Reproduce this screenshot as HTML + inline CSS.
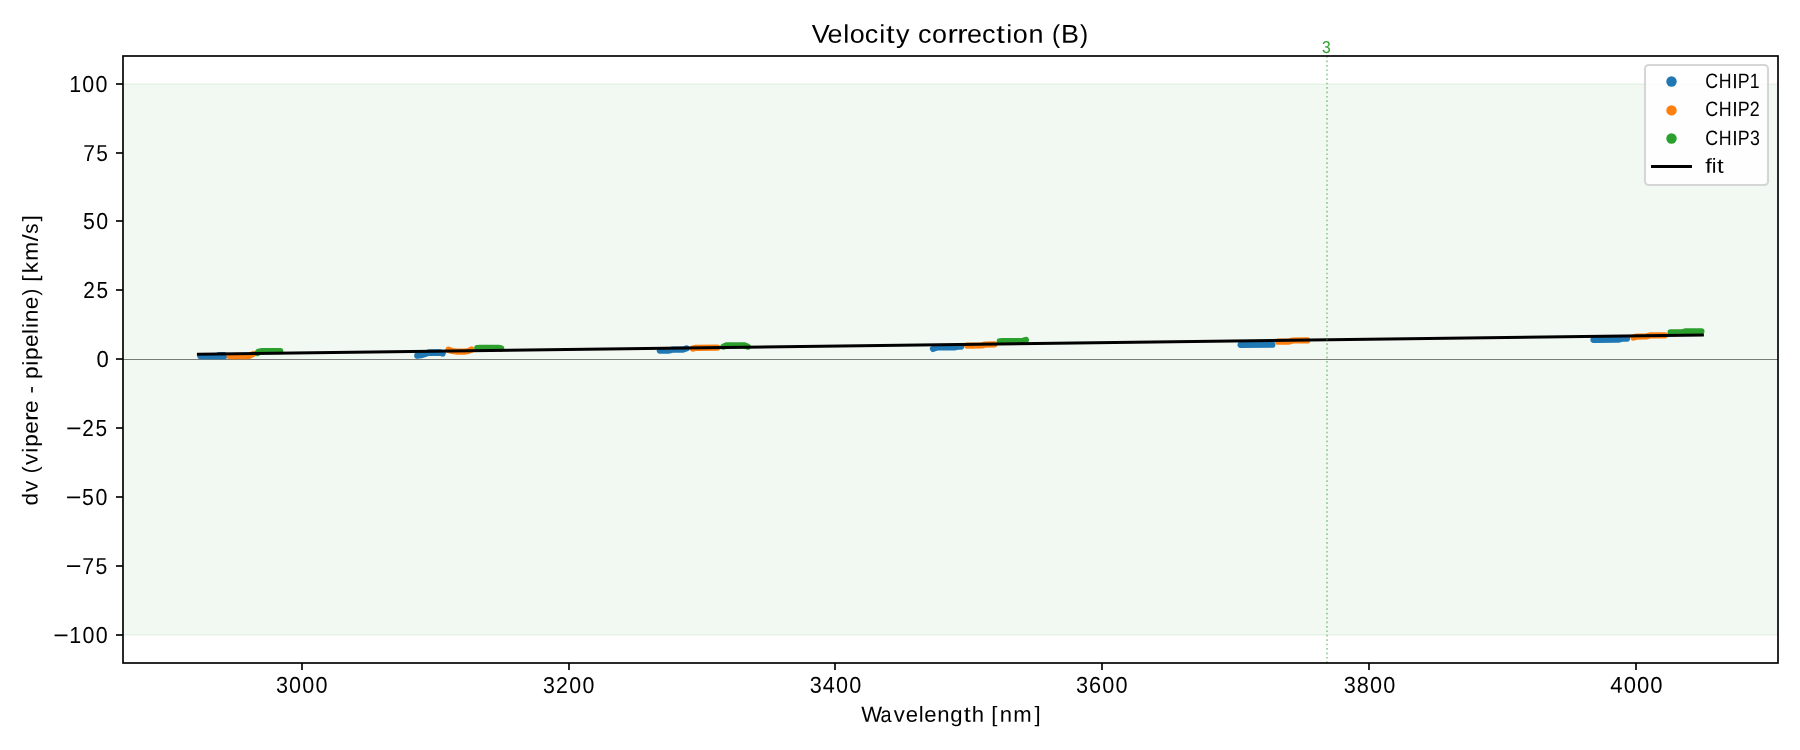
<!DOCTYPE html>
<html lang="en">
<head>
<meta charset="utf-8">
<title>Velocity correction (B)</title>
<style>
html,body{margin:0;padding:0;background:#fff;width:1800px;height:750px;overflow:hidden}
svg{display:block;will-change:transform}
text{font-family:"Liberation Sans",sans-serif;font-kerning:none;text-rendering:geometricPrecision;white-space:pre}
</style>
</head>
<body>
<svg width="1800" height="750" viewBox="0 0 1800 750">
<rect width="1800" height="750" fill="#fff"/>
<clipPath id="ax"><rect x="123" y="56" width="1655" height="607"/></clipPath>
<g clip-path="url(#ax)">
<!-- axhspan(-100, 100): green, alpha 0.05, with its faint edge line -->
<g shape-rendering="crispEdges">
<rect x="123" y="83" width="1655" height="553" fill="rgb(242,248,242)"/>
<rect x="123" y="84" width="1655" height="1" fill="rgb(229,241,229)"/>
<rect x="123" y="634" width="1655" height="1" fill="rgb(229,241,229)"/>
<!-- zero line -->
<rect x="123" y="359" width="1655" height="1" fill="rgb(120,123,120)"/>
</g>
<!-- CHIP1 / CHIP2 / CHIP3 scatter clusters -->
<g fill="none" stroke-width="6.25" stroke-linecap="round" stroke-linejoin="round">
<path d="M200.3,356.0 L224.5,356.0 M219,355.0 L224,355.0" stroke="#1f77b4"/>
<path d="M417.3,355.6 L421,355.2 L428,353.0 L440,352.8 L442.7,353.5 M429,352.4 L440,352.3" stroke="#1f77b4"/>
<path d="M659.8,350.6 L669,350.6 L672,349.7 L683,349.6 L686.5,348.4" stroke="#1f77b4"/>
<path d="M933,348.9 L934.5,348.3 L937,347.5 L954,347.4 L958,346.7 L961.1,346.6" stroke="#1f77b4"/>
<path d="M1240.6,344.8 L1272.3,344.7" stroke="#1f77b4"/>
<path d="M1593.5,339.8 L1618,339.7 L1622,338.7 L1627,338.6" stroke="#1f77b4"/>
<path d="M229.5,356.0 L249,356.0 L253.3,354.0" stroke="#ff7f0e"/>
<path d="M448.5,349.8 L452,351.0 L456,351.5 L465,351.5 L468.5,351.0 L471.5,349.6" stroke="#ff7f0e"/>
<path d="M692.7,348.6 L696,347.8 L717.3,347.6" stroke="#ff7f0e"/>
<path d="M967.1,345.6 L982,345.5 L985,344.6 L994.4,344.4" stroke="#ff7f0e"/>
<path d="M1278.1,341.7 L1289,341.6 L1293,340.5 L1307.3,340.4" stroke="#ff7f0e"/>
<path d="M1633.5,337.6 L1637,336.6 L1646,336.5 L1650,335.4 L1664.8,335.3" stroke="#ff7f0e"/>
<path d="M257.5,353.0 L258.5,351.8 L262,351.2 L280.2,351.2" stroke="#2ca02c"/>
<path d="M477.3,348.2 L480,347.9 L498.5,347.9 L501.1,348.3" stroke="#2ca02c"/>
<path d="M723.5,346.6 L727,345.3 L744,345.3 L747.7,346.6" stroke="#2ca02c"/>
<path d="M999.8,341.3 L1003,341.0 L1022.5,341.0 L1025.9,340.0" stroke="#2ca02c"/>
<path d="M1670.6,332.4 L1682,332.3 L1686,331.4 L1701.4,331.3" stroke="#2ca02c"/>
</g>
<!-- fit line -->
<path d="M198.5,354.2L1702.3,335.0" stroke="#000" stroke-width="3.125" stroke-linecap="square" fill="none"/>
<!-- order boundary (dotted) -->
<path d="M1327,663V56" stroke="#2ca02c" stroke-opacity="0.5" stroke-width="1.667" stroke-dasharray="1.667 2.75" fill="none"/>
</g>
<!-- ticks -->
<g stroke="#000" stroke-width="1.667" fill="none"><path d="M302,663V670"/><path d="M569,663V670"/><path d="M835,663V670"/><path d="M1102,663V670"/><path d="M1369,663V670"/><path d="M1636,663V670"/><path d="M123,84H116"/><path d="M123,153H116"/><path d="M123,221H116"/><path d="M123,290H116"/><path d="M123,359H116"/><path d="M123,428H116"/><path d="M123,497H116"/><path d="M123,566H116"/><path d="M123,635H116"/></g>
<!-- spines -->
<rect x="123" y="56" width="1655" height="607" fill="none" stroke="#000" stroke-width="1.667"/>
<!-- legend -->
<rect x="1645" y="65" width="123" height="120" rx="3.75" ry="3.75" fill="#fff" fill-opacity="0.8" stroke="#ccc" stroke-opacity="0.8" stroke-width="2.083"/>
<circle cx="1671.5" cy="81.5" r="5.2" fill="#1f77b4"/>
<circle cx="1671.5" cy="110.4" r="5.2" fill="#ff7f0e"/>
<circle cx="1671.5" cy="138.5" r="5.2" fill="#2ca02c"/>
<path d="M1652.6,166.5H1690.4" stroke="#000" stroke-width="3.125" stroke-linecap="square" fill="none"/>
<!-- text -->
<text transform="translate(812.38,42.64) rotate(0.03) scale(1.0492,1)" x="-0.61 14.44 29.32 35.64 49.90 63.63 70.27 79.75 92.60 100.64 114.05 128.80 138.12 147.35 161.62 175.37 184.69 190.99 205.88 220.17 228.31 236.94 255.11" font-size="25.696" fill="#000">Veloci<tspan textLength="8.21" lengthAdjust="spacingAndGlyphs">t</tspan>y co<tspan textLength="9.84" lengthAdjust="spacingAndGlyphs">r</tspan><tspan textLength="9.84" lengthAdjust="spacingAndGlyphs">r</tspan>ec<tspan textLength="8.21" lengthAdjust="spacingAndGlyphs">t</tspan>ion <tspan textLength="7.70" lengthAdjust="spacingAndGlyphs">(</tspan>B<tspan textLength="7.70" lengthAdjust="spacingAndGlyphs">)</tspan></text>
<text transform="translate(862.05,721.65) rotate(0.03) scale(1.0121,1)" x="-0.87 18.33 31.43 43.25 56.02 61.57 74.39 87.24 100.42 108.44 120.59 127.69 136.01 149.49 170.31" font-size="21.846" fill="#000">W<tspan textLength="10.93" lengthAdjust="spacingAndGlyphs">a</tspan>veleng<tspan textLength="6.98" lengthAdjust="spacingAndGlyphs">t</tspan>h [nm]</text>
<text transform="translate(37.59,504.61) rotate(-89.97) scale(1.0465,1)" x="-0.91 12.05 22.86 29.86 37.97 49.67 55.26 67.65 80.00 87.64 99.67 106.09 113.30 120.06 132.68 138.27 150.66 163.14 168.69 174.20 186.65 199.91 206.39 212.98 221.17 232.97 251.66 258.83 270.45" font-size="21.630" fill="#000">dv <tspan textLength="6.48" lengthAdjust="spacingAndGlyphs">(</tspan>vipe<tspan textLength="8.28" lengthAdjust="spacingAndGlyphs">r</tspan>e - pipeline<tspan textLength="6.48" lengthAdjust="spacingAndGlyphs">)</tspan> [km<tspan textLength="6.71" lengthAdjust="spacingAndGlyphs">/</tspan><tspan textLength="9.73" lengthAdjust="spacingAndGlyphs">s</tspan>]</text>
<text transform="translate(276.86,692.69) rotate(0.03) scale(0.9438,1)" x="-1.04 12.93 26.94 40.94" font-size="22.923" fill="#000">3000</text>
<text transform="translate(543.99,692.69) rotate(0.03) scale(0.9307,1)" x="-0.99 12.82 27.24 41.36" font-size="22.923" fill="#000">3200</text>
<text transform="translate(810.66,692.69) rotate(0.03) scale(0.9440,1)" x="-1.04 12.93 26.93 40.93" font-size="22.923" fill="#000">3400</text>
<text transform="translate(1076.99,692.69) rotate(0.03) scale(0.9471,1)" x="-1.08 12.77 26.65 40.54" font-size="22.923" fill="#000">3600</text>
<text transform="translate(1344.66,692.69) rotate(0.03) scale(0.9464,1)" x="-1.05 12.88 26.85 40.81" font-size="22.923" fill="#000">3800</text>
<text transform="translate(1610.82,692.69) rotate(0.03) scale(0.9628,1)" x="-0.53 13.34 27.20 41.06" font-size="22.923" fill="#000">4000</text>
<text transform="translate(70.91,91.97) rotate(0.03) scale(0.9262,1)" x="-1.92 12.39 26.59" font-size="23.146" fill="#000">100</text>
<text transform="translate(84.11,160.83) rotate(0.03) scale(0.9050,1)" x="-1.09 13.40" font-size="23.077" fill="#000">75</text>
<text transform="translate(83.93,228.97) rotate(0.03) scale(0.9222,1)" x="-1.09 13.40" font-size="23.146" fill="#000">50</text>
<text transform="translate(84.16,297.97) rotate(0.03) scale(0.9003,1)" x="-1.11 13.78" font-size="23.146" fill="#000">25</text>
<text transform="translate(97.42,366.97) rotate(0.03) scale(0.9536,1)" x="-0.90" font-size="23.146" fill="#000">0</text>
<text transform="translate(66.40,435.97) rotate(0.03) scale(0.9003,1)" x="-0.46 17.47 32.36" font-size="23.146" fill="#000"><tspan textLength="17.32" lengthAdjust="spacingAndGlyphs">−</tspan>25</text>
<text transform="translate(66.18,504.97) rotate(0.03) scale(0.9222,1)" x="-0.46 17.23 31.72" font-size="23.146" fill="#000"><tspan textLength="17.00" lengthAdjust="spacingAndGlyphs">−</tspan>50</text>
<text transform="translate(66.20,573.83) rotate(0.03) scale(0.9187,1)" x="-0.47 17.50 31.98" font-size="23.077" fill="#000"><tspan textLength="17.15" lengthAdjust="spacingAndGlyphs">−</tspan>75</text>
<text transform="translate(53.71,642.97) rotate(0.03) scale(0.9262,1)" x="-0.44 16.86 31.17 45.37" font-size="23.146" fill="#000"><tspan textLength="16.76" lengthAdjust="spacingAndGlyphs">−</tspan>100</text>
<text transform="translate(1706.38,88.17) rotate(0.03) scale(0.8508,1)" x="-1.24 14.68 30.43 36.87 51.06" font-size="20.831" fill="#000">CH<tspan textLength="6.41" lengthAdjust="spacingAndGlyphs">I</tspan>P1</text>
<text transform="translate(1706.32,116.17) rotate(0.03) scale(0.8573,1)" x="-1.26 14.63 30.35 36.76 50.72" font-size="20.831" fill="#000">CH<tspan textLength="6.39" lengthAdjust="spacingAndGlyphs">I</tspan>P2</text>
<text transform="translate(1706.37,145.17) rotate(0.03) scale(0.8527,1)" x="-1.26 14.63 30.36 36.77 51.04" font-size="20.831" fill="#000">CH<tspan textLength="6.40" lengthAdjust="spacingAndGlyphs">I</tspan>P3</text>
<text transform="translate(1705.55,172.75) rotate(0.03) scale(1.1754,1)" x="-0.22 5.38 9.81" font-size="20.228" fill="#000">f<tspan textLength="4.04" lengthAdjust="spacingAndGlyphs">i</tspan>t</text>
<text transform="translate(1322.70,52.98) rotate(0.03) scale(0.8984,1)" x="-0.66" font-size="17.373" fill="#2ca02c">3</text>
</svg>
</body>
</html>
